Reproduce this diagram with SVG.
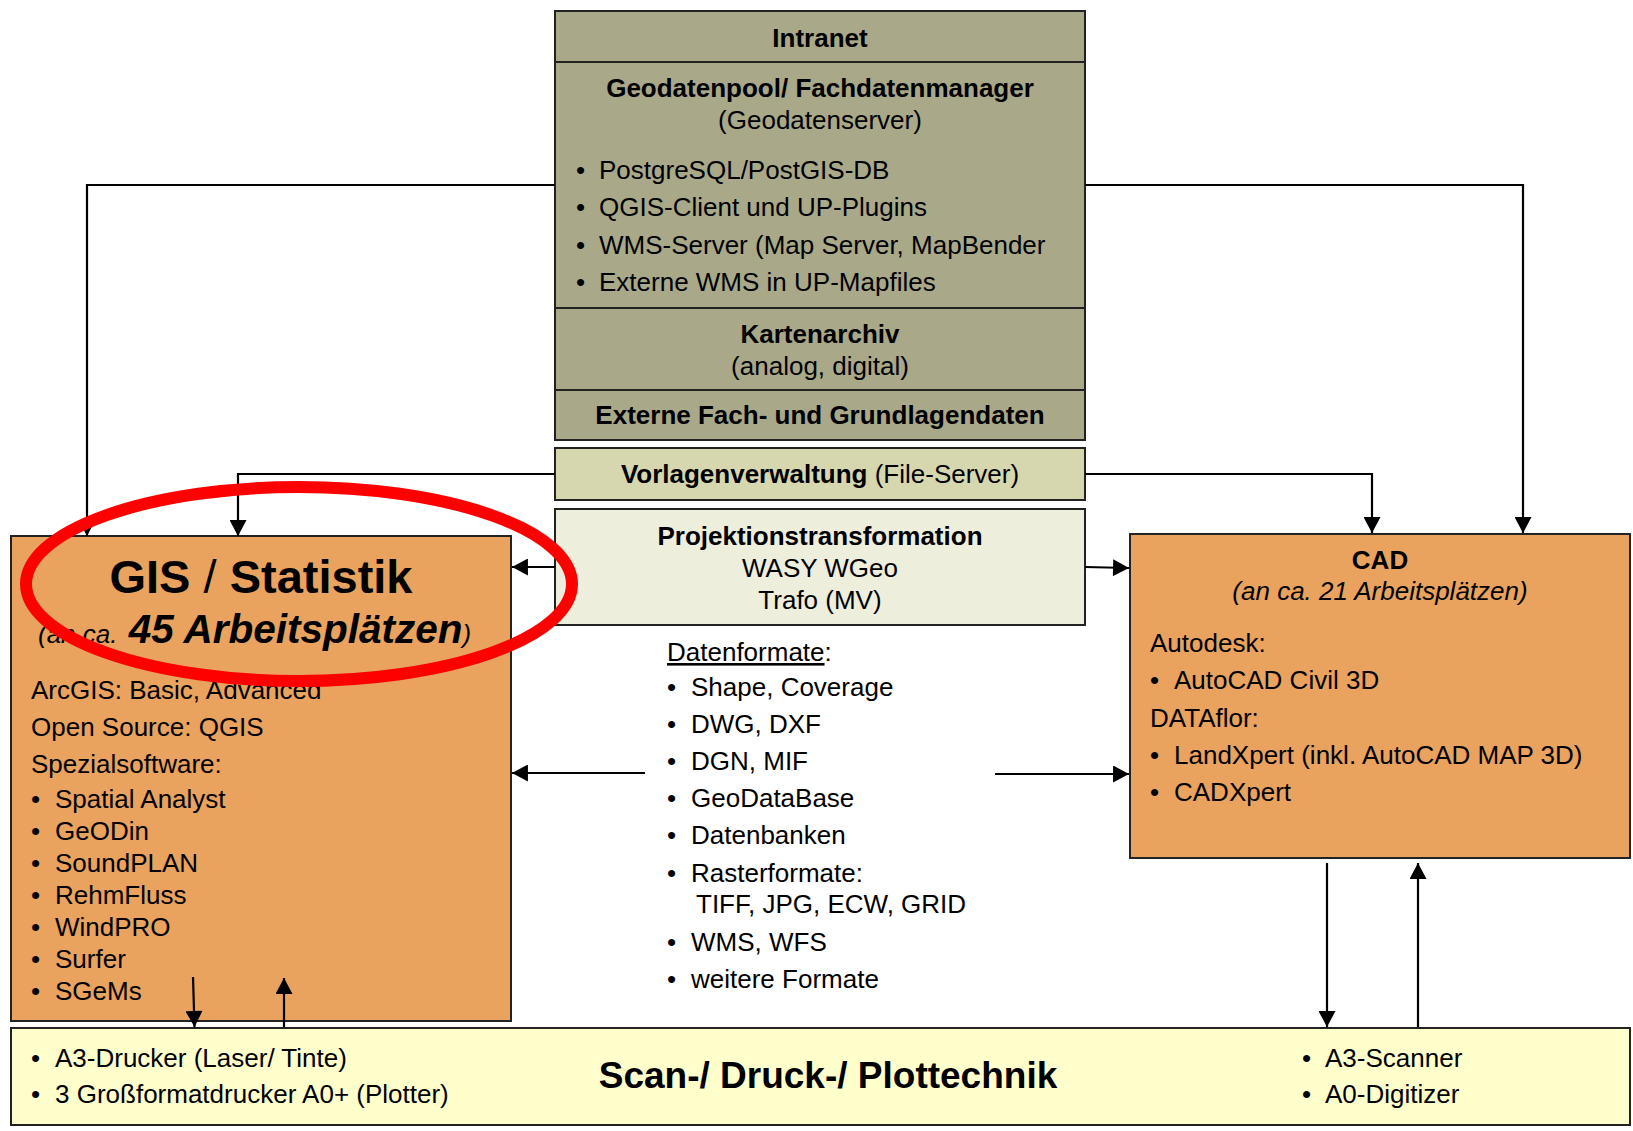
<svg xmlns="http://www.w3.org/2000/svg" width="1633" height="1131" viewBox="0 0 1633 1131">
<style>
text{font-family:"Liberation Sans",Arial,sans-serif;font-size:26px;fill:#000}
.b{font-weight:bold}
.c{text-anchor:middle}
.i{font-style:italic}
.box{stroke:#222;stroke-width:2}
.intra{fill:#A9A98A}
.vorl{fill:#D7D7AF}
.proj{fill:#EEEEDC}
.orange{fill:#E9A35E}
.scan{fill:#FFFFCC}
.con{fill:none;stroke:#000;stroke-width:2.2}
</style>
<defs>
<marker id="ah" markerUnits="userSpaceOnUse" markerWidth="17" markerHeight="17" viewBox="0 0 15 16" refX="15" refY="8" orient="auto">
<path d="M0,0 L15,8 L0,16 z" fill="#000"/>
</marker>
</defs>
<rect width="1633" height="1131" fill="#fff"/>

<g id="intranet">
<rect class="box intra" x="555" y="11" width="530" height="429"/>
<line class="box" x1="555" y1="62" x2="1085" y2="62"/>
<line class="box" x1="555" y1="308" x2="1085" y2="308"/>
<line class="box" x1="555" y1="390" x2="1085" y2="390"/>
<text class="b c" x="820" y="47">Intranet</text>
<text class="b c" x="820" y="97">Geodatenpool/ Fachdatenmanager</text>
<text class="c" x="820" y="129">(Geodatenserver)</text>
<text x="576" y="179">•</text><text x="599" y="179">PostgreSQL/PostGIS-DB</text>
<text x="576" y="216">•</text><text x="599" y="216">QGIS-Client und UP-Plugins</text>
<text x="576" y="254">•</text><text x="599" y="254">WMS-Server (Map Server, MapBender</text>
<text x="576" y="291">•</text><text x="599" y="291">Externe WMS in UP-Mapfiles</text>
<text class="b c" x="820" y="343">Kartenarchiv</text>
<text class="c" x="820" y="375">(analog, digital)</text>
<text class="b c" x="820" y="424">Externe Fach- und Grundlagendaten</text>
</g>

<g id="vorlagen">
<rect class="box vorl" x="555" y="448" width="530" height="52"/>
<text class="c" x="820" y="483"><tspan class="b">Vorlagenverwaltung</tspan> (File-Server)</text>
</g>

<g id="projektion">
<rect class="box proj" x="555" y="509" width="530" height="116"/>
<text class="b c" x="820" y="545">Projektionstransformation</text>
<text class="c" x="820" y="577">WASY WGeo</text>
<text class="c" x="820" y="609">Trafo (MV)</text>
</g>

<g id="gis">
<rect class="box orange" x="11" y="536" width="500" height="485"/>
<text class="c" x="261" y="593" style="font-size:47px"><tspan class="b">GIS</tspan> / <tspan class="b">Statistik</tspan></text>
<text x="38" y="643" class="i"><tspan style="font-size:26px">(an ca. </tspan><tspan class="b" style="font-size:40.5px" dx="4">45 Arbeitsplätzen</tspan><tspan style="font-size:26px">)</tspan></text>
<text x="31" y="699">ArcGIS: Basic, Advanced</text>
<text x="31" y="736">Open Source: QGIS</text>
<text x="31" y="773">Spezialsoftware:</text>
<text x="31" y="808">•</text><text x="55" y="808">Spatial Analyst</text>
<text x="31" y="840">•</text><text x="55" y="840">GeODin</text>
<text x="31" y="872">•</text><text x="55" y="872">SoundPLAN</text>
<text x="31" y="904">•</text><text x="55" y="904">RehmFluss</text>
<text x="31" y="936">•</text><text x="55" y="936">WindPRO</text>
<text x="31" y="968">•</text><text x="55" y="968">Surfer</text>
<text x="31" y="1000">•</text><text x="55" y="1000">SGeMs</text>
</g>

<g id="cad">
<rect class="box orange" x="1130" y="534" width="500" height="324"/>
<text class="b c" x="1380" y="569">CAD</text>
<text class="i c" x="1380" y="600">(an ca. 21 Arbeitsplätzen)</text>
<text x="1150" y="652">Autodesk:</text>
<text x="1150" y="689">•</text><text x="1174" y="689">AutoCAD Civil 3D</text>
<text x="1150" y="727">DATAflor:</text>
<text x="1150" y="764">•</text><text x="1174" y="764">LandXpert (inkl. AutoCAD MAP 3D)</text>
<text x="1150" y="801">•</text><text x="1174" y="801">CADXpert</text>
</g>

<g id="datenformate">
<text x="667" y="661"><tspan text-decoration="underline">Datenformate</tspan>:</text>
<text x="667" y="696">•</text><text x="691" y="696">Shape, Coverage</text>
<text x="667" y="733">•</text><text x="691" y="733">DWG, DXF</text>
<text x="667" y="770">•</text><text x="691" y="770">DGN, MIF</text>
<text x="667" y="807">•</text><text x="691" y="807">GeoDataBase</text>
<text x="667" y="844">•</text><text x="691" y="844">Datenbanken</text>
<text x="667" y="882">•</text><text x="691" y="882">Rasterformate:</text>
<text x="696" y="913">TIFF, JPG, ECW, GRID</text>
<text x="667" y="951">•</text><text x="691" y="951">WMS, WFS</text>
<text x="667" y="988">•</text><text x="691" y="988">weitere Formate</text>
</g>

<g id="scan">
<rect class="box scan" x="11" y="1028" width="1619" height="97"/>
<text class="b c" x="828" y="1088" style="font-size:37px">Scan-/ Druck-/ Plottechnik</text>
<text x="31" y="1067">•</text><text x="55" y="1067">A3-Drucker (Laser/ Tinte)</text>
<text x="31" y="1103">•</text><text x="55" y="1103">3 Großformatdrucker A0+ (Plotter)</text>
<text x="1302" y="1067">•</text><text x="1325" y="1067">A3-Scanner</text>
<text x="1302" y="1103">•</text><text x="1325" y="1103">A0-Digitizer</text>
</g>

<g id="connectors">
<path class="con" marker-end="url(#ah)" d="M555,185 H87 V536"/>
<path class="con" marker-end="url(#ah)" d="M1085,185 H1523 V533"/>
<path class="con" marker-end="url(#ah)" d="M555,474 H238 V536"/>
<path class="con" marker-end="url(#ah)" d="M1085,474 H1372 V533"/>
<path class="con" marker-end="url(#ah)" d="M555,567 H512"/>
<path class="con" marker-end="url(#ah)" d="M1085,567 L1129,568"/>
<path class="con" marker-end="url(#ah)" d="M645,773 H512"/>
<path class="con" marker-end="url(#ah)" d="M995,774 H1129"/>
<path class="con" marker-end="url(#ah)" d="M193,977 L194.5,1027"/>
<path class="con" marker-end="url(#ah)" d="M284,1027 V978"/>
<path class="con" marker-end="url(#ah)" d="M1327,863 V1027"/>
<path class="con" marker-end="url(#ah)" d="M1418,1027 V863"/>
</g>

<g id="highlight">
<ellipse cx="299" cy="584" rx="273" ry="97" fill="none" stroke="#FF0000" stroke-width="12"/>
</g>
</svg>
